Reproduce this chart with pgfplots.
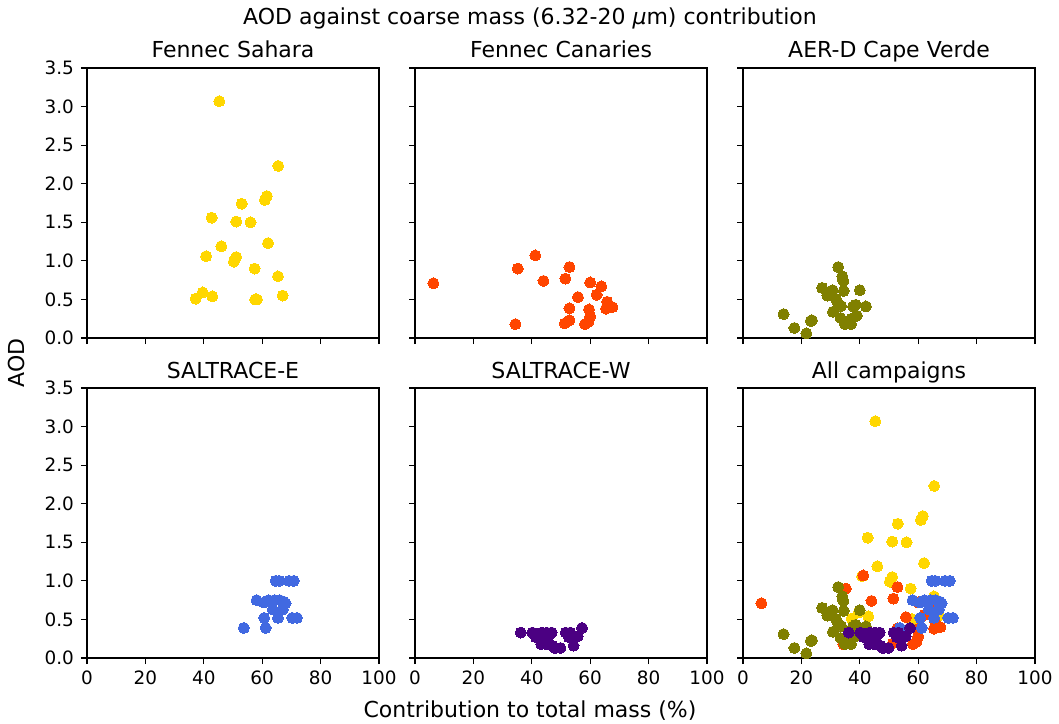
\documentclass[border=0pt]{standalone}
\usepackage{fontspec}
\setmainfont{DejaVu Sans}
\usepackage{pgfplots}
\usepackage{pgfplotstable}
\pgfplotsset{compat=1.18}
\usepgfplotslibrary{groupplots}
\usetikzlibrary{calc}

\definecolor{sahara}{HTML}{FFD700}
\definecolor{canaries}{HTML}{FF4500}
\definecolor{aerd}{HTML}{808000}
\definecolor{saltE}{HTML}{4169E1}
\definecolor{saltW}{HTML}{4B0082}

% contribution (%), AOD
\pgfplotstableread{
x y
45.3 3.07
65.5 2.23
61.6 1.84
60.9 1.79
53.0 1.74
42.7 1.56
51.1 1.51
56.0 1.50
62.0 1.23
46.0 1.19
40.8 1.06
51.1 1.05
50.3 0.99
57.4 0.90
65.4 0.80
39.6 0.59
37.2 0.51
42.9 0.54
57.6 0.50
58.2 0.50
67.0 0.55
}\sahara

\pgfplotstableread{
x y
6.3 0.71
41.2 1.07
35.2 0.90
52.9 0.92
44.0 0.74
51.5 0.77
60.0 0.72
63.8 0.67
62.2 0.56
55.8 0.53
65.8 0.47
65.4 0.38
67.6 0.40
52.9 0.385
59.6 0.37
60.0 0.28
52.9 0.23
51.3 0.19
59.4 0.21
58.2 0.18
34.4 0.18
}\canaries

\pgfplotstableread{
x y
13.9 0.31
17.6 0.13
21.7 0.06
23.6 0.23
23.2 0.22
32.6 0.92
34.0 0.80
34.4 0.74
27.1 0.65
30.7 0.62
34.5 0.61
40.0 0.62
28.9 0.55
31.8 0.51
32.5 0.45
33.6 0.415
38.6 0.43
37.7 0.41
42.1 0.41
30.8 0.34
33.4 0.26
39.0 0.29
37.1 0.25
34.9 0.18
37.0 0.18
36.3 0.21
}\aerd

\pgfplotstableread{
x y
53.7 0.39
61.2 0.39
60.7 0.52
65.4 0.52
70.3 0.52
71.9 0.52
63.6 0.63
67.1 0.63
58.1 0.75
60.6 0.72
62.2 0.75
64.3 0.75
66.0 0.75
67.4 0.73
68.0 0.71
64.6 1.00
65.8 1.00
69.2 1.00
70.8 1.00
}\saltE

\pgfplotstableread{
x y
36.2 0.33
40.2 0.33
41.4 0.27
43.4 0.33
45.1 0.33
46.8 0.33
44.0 0.28
45.7 0.28
43.2 0.18
44.9 0.18
47.9 0.13
49.8 0.13
51.6 0.33
53.2 0.33
52.7 0.27
55.7 0.28
57.2 0.39
54.3 0.16
47.0 0.16
44.7 0.25
}\saltW

\pgfplotsset{
  dot/.style={only marks, mark=*, mark size=2.75pt, color=#1, fill=#1,
    mark options={draw=#1, fill=#1, line width=0pt}},
}

\begin{document}
\begin{tikzpicture}
\begin{groupplot}[
  group style={group size=3 by 2, horizontal sep=18pt, vertical sep=25pt,
    xticklabels at=edge bottom, yticklabels at=edge left},
  scale only axis,
  width=146pt, height=135pt,
  xmin=0, xmax=100, ymin=0, ymax=3.5,
  xtick={0,20,...,100},
  ytick={0,0.5,...,3.5},
  yticklabel style={/pgf/number format/.cd, fixed, fixed zerofill, precision=1},
  /pgf/number format/assume math mode=true,
  tick label style={font=\fontsize{9.2}{11}\selectfont, black},
  tick align=outside,
  xtick pos=bottom, ytick pos=left,
  major tick length=3pt,
  every tick/.style={black, line width=0.6pt},
  axis line style={line width=0.6pt},
  title style={font=\fontsize{11}{13}\selectfont, at={(0.5,1)}, anchor=base, yshift=-1pt},
]
\nextgroupplot[title={Fennec Sahara}]
\addplot[dot=sahara] table {\sahara};
\nextgroupplot[title={Fennec Canaries}]
\addplot[dot=canaries] table {\canaries};
\nextgroupplot[title={AER-D Cape Verde}]
\addplot[dot=aerd] table {\aerd};
\nextgroupplot[title={SALTRACE-E}]
\addplot[dot=saltE] table {\saltE};
\nextgroupplot[title={SALTRACE-W}]
\addplot[dot=saltW] table {\saltW};
\nextgroupplot[title={All campaigns}]
\addplot[dot=sahara] table {\sahara};
\addplot[dot=canaries] table {\canaries};
\addplot[dot=aerd] table {\aerd};
\addplot[dot=saltE] table {\saltE};
\addplot[dot=saltW] table {\saltW};
\end{groupplot}

\node[anchor=base, font=\fontsize{11}{13}\selectfont]
  at ($(group c1r1.north west)+(221.5pt,21.5pt)$) {AOD against coarse mass (6.32-20 {\itshape μ}m) contribution};
\node[anchor=base, font=\fontsize{11}{13}\selectfont]
  at ($(group c1r2.south west)+(221.5pt,-29.5pt)$) {Contribution to total mass (\%)};
\node[anchor=base, rotate=90, font=\fontsize{11}{13}\selectfont]
  at ($(group c1r1.north west)+(-31pt,-147.5pt)$) {AOD};

\pgfresetboundingbox
\path ($(group c1r1.north west)+(-43.5pt,34pt)$) rectangle ($(group c1r1.north west)+(486pt,-327.5pt)$);
\end{tikzpicture}
\end{document}
